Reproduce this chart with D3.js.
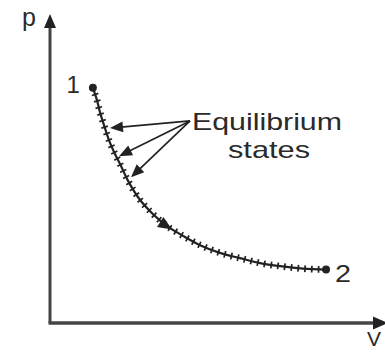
<!DOCTYPE html>
<html>
<head>
<meta charset="utf-8">
<script src="https://cdn.jsdelivr.net/npm/d3@7"></script>
<style>
  html, body { margin: 0; padding: 0; background: #fff; }
  svg { display: block; }
  text { font-family: "Liberation Sans", Arial, sans-serif; fill: #2a2a2a; }
</style>
</head>
<body>
<svg id="chart" width="385" height="354"></svg>
<script>
// Quasi-static process from state 1 to state 2 on a p–V diagram
const processV = [1.28, 1.40, 1.49, 1.61, 1.76, 1.94, 2.12, 2.33, 2.69, 3.07, 3.49, 3.97, 4.48, 5.07, 5.67, 6.27, 6.87, 7.55, 8.24];
const processP = [7.61, 7.22, 6.83, 6.41, 5.92, 5.47, 5.08, 4.60, 3.98, 3.53, 3.14, 2.82, 2.52, 2.27, 2.10, 1.94, 1.84, 1.76, 1.73];

// Equilibrium states singled out by the callout arrows
const calloutV = [1.79, 2.06, 2.42];
const calloutP = [6.31, 5.40, 4.72];
const calloutFrom = { V: 4.18, p: 6.54 };

const axisLabels = { x: "V", y: "p" };
const stateLabels = ["1", "2"];
const calloutText = ["Equilibrium", "states"];

const svg = d3.select("#chart");
const x = d3.scaleLinear().domain([0, 10]).range([50, 385]);
const y = d3.scaleLinear().domain([0, 10]).range([323, 14]);

const ink = "#222";
const axisInk = "#444";

// Axes with arrowheads
svg.append("line")
  .attr("x1", x(0)).attr("y1", y(0))
  .attr("x2", x(0)).attr("y2", y(10) + 10)
  .attr("stroke", axisInk).attr("stroke-width", 3);
svg.append("line")
  .attr("x1", x(0) - 1.5).attr("y1", y(0))
  .attr("x2", x(10) - 10).attr("y2", y(0))
  .attr("stroke", axisInk).attr("stroke-width", 3.5);

function arrowHead(tipX, tipY, angle, len, half) {
  const c = Math.cos(angle), s = Math.sin(angle);
  const bx = tipX - c * len, by = tipY - s * len;
  return `M${tipX},${tipY}L${bx - s * half},${by + c * half}L${bx + s * half},${by - c * half}Z`;
}
svg.append("path")
  .attr("d", arrowHead(x(0), y(10), -Math.PI / 2, 14, 6))
  .attr("fill", ink);
svg.append("path")
  .attr("d", arrowHead(x(10) + 3, y(0), 0, 15, 6.5))
  .attr("fill", ink);

svg.append("text").attr("x", 22).attr("y", 26)
  .attr("font-size", 25).text(axisLabels.y);
svg.append("text").attr("x", 367).attr("y", 346)
  .attr("font-size", 21).text(axisLabels.x);

// Process curve
const pts = processV.map((v, i) => ({ V: v, p: processP[i] }));
const line = d3.line().x(d => x(d.V)).y(d => y(d.p)).curve(d3.curveCatmullRom.alpha(0.5));
const curve = svg.append("path")
  .attr("d", line(pts))
  .attr("fill", "none").attr("stroke", ink).attr("stroke-width", 2.2);

// Cross ticks marking successive equilibrium states along the path
const node = curve.node();
const total = node.getTotalLength();
const tickG = svg.append("g").attr("stroke", ink).attr("stroke-width", 1.7);
function tangentAt(l) {
  const a = node.getPointAtLength(Math.max(0, l - 1));
  const b = node.getPointAtLength(Math.min(total, l + 1));
  return Math.atan2(b.y - a.y, b.x - a.x);
}
for (let l = 7; l < total - 3; l += 6.8) {
  const p = node.getPointAtLength(l);
  const ang = tangentAt(l);
  const nx = -Math.sin(ang) * 3.4, ny = Math.cos(ang) * 3.4;
  tickG.append("line")
    .attr("x1", p.x - nx).attr("y1", p.y - ny)
    .attr("x2", p.x + nx).attr("y2", p.y + ny);
}

// Direction arrow on the curve
const arrowV = processV[10];
let arrowL = 0, best = Infinity;
for (let l = 0; l <= total; l += 0.5) {
  const d = Math.abs(node.getPointAtLength(l).x - x(arrowV));
  if (d < best) { best = d; arrowL = l; }
}
const ap = node.getPointAtLength(arrowL + 6);
svg.append("path")
  .attr("d", arrowHead(ap.x, ap.y, tangentAt(arrowL + 6), 14, 6))
  .attr("fill", ink);

// End states
const ends = [pts[0], pts[pts.length - 1]];
svg.selectAll("circle.state").data(ends).join("circle")
  .attr("class", "state")
  .attr("cx", d => x(d.V)).attr("cy", d => y(d.p))
  .attr("r", 4).attr("fill", ink);
svg.append("text").attr("x", x(ends[0].V) - 13).attr("y", y(ends[0].p) + 5)
  .attr("font-size", 24).attr("text-anchor", "end").text(stateLabels[0]);
svg.append("text").attr("x", x(ends[1].V) + 9).attr("y", y(ends[1].p) + 12)
  .attr("font-size", 24).attr("textLength", 16).attr("lengthAdjust", "spacingAndGlyphs")
  .text(stateLabels[1]);

// Callout arrows
const fromX = x(calloutFrom.V), fromY = y(calloutFrom.p);
calloutV.forEach((v, i) => {
  const tx = x(v), ty = y(calloutP[i]);
  const ang = Math.atan2(ty - fromY, tx - fromX);
  const len = 13;
  svg.append("line")
    .attr("x1", fromX).attr("y1", fromY)
    .attr("x2", tx - Math.cos(ang) * (len - 2)).attr("y2", ty - Math.sin(ang) * (len - 2))
    .attr("stroke", ink).attr("stroke-width", 1.7);
  svg.append("path")
    .attr("d", arrowHead(tx, ty, ang, len, 5.5))
    .attr("fill", ink);
});

svg.append("text").attr("x", 192).attr("y", 130)
  .attr("font-size", 24).attr("textLength", 150).attr("lengthAdjust", "spacingAndGlyphs")
  .text(calloutText[0]);
svg.append("text").attr("x", 228).attr("y", 158)
  .attr("font-size", 24).attr("textLength", 82).attr("lengthAdjust", "spacingAndGlyphs")
  .text(calloutText[1]);
</script>
</body>
</html>
